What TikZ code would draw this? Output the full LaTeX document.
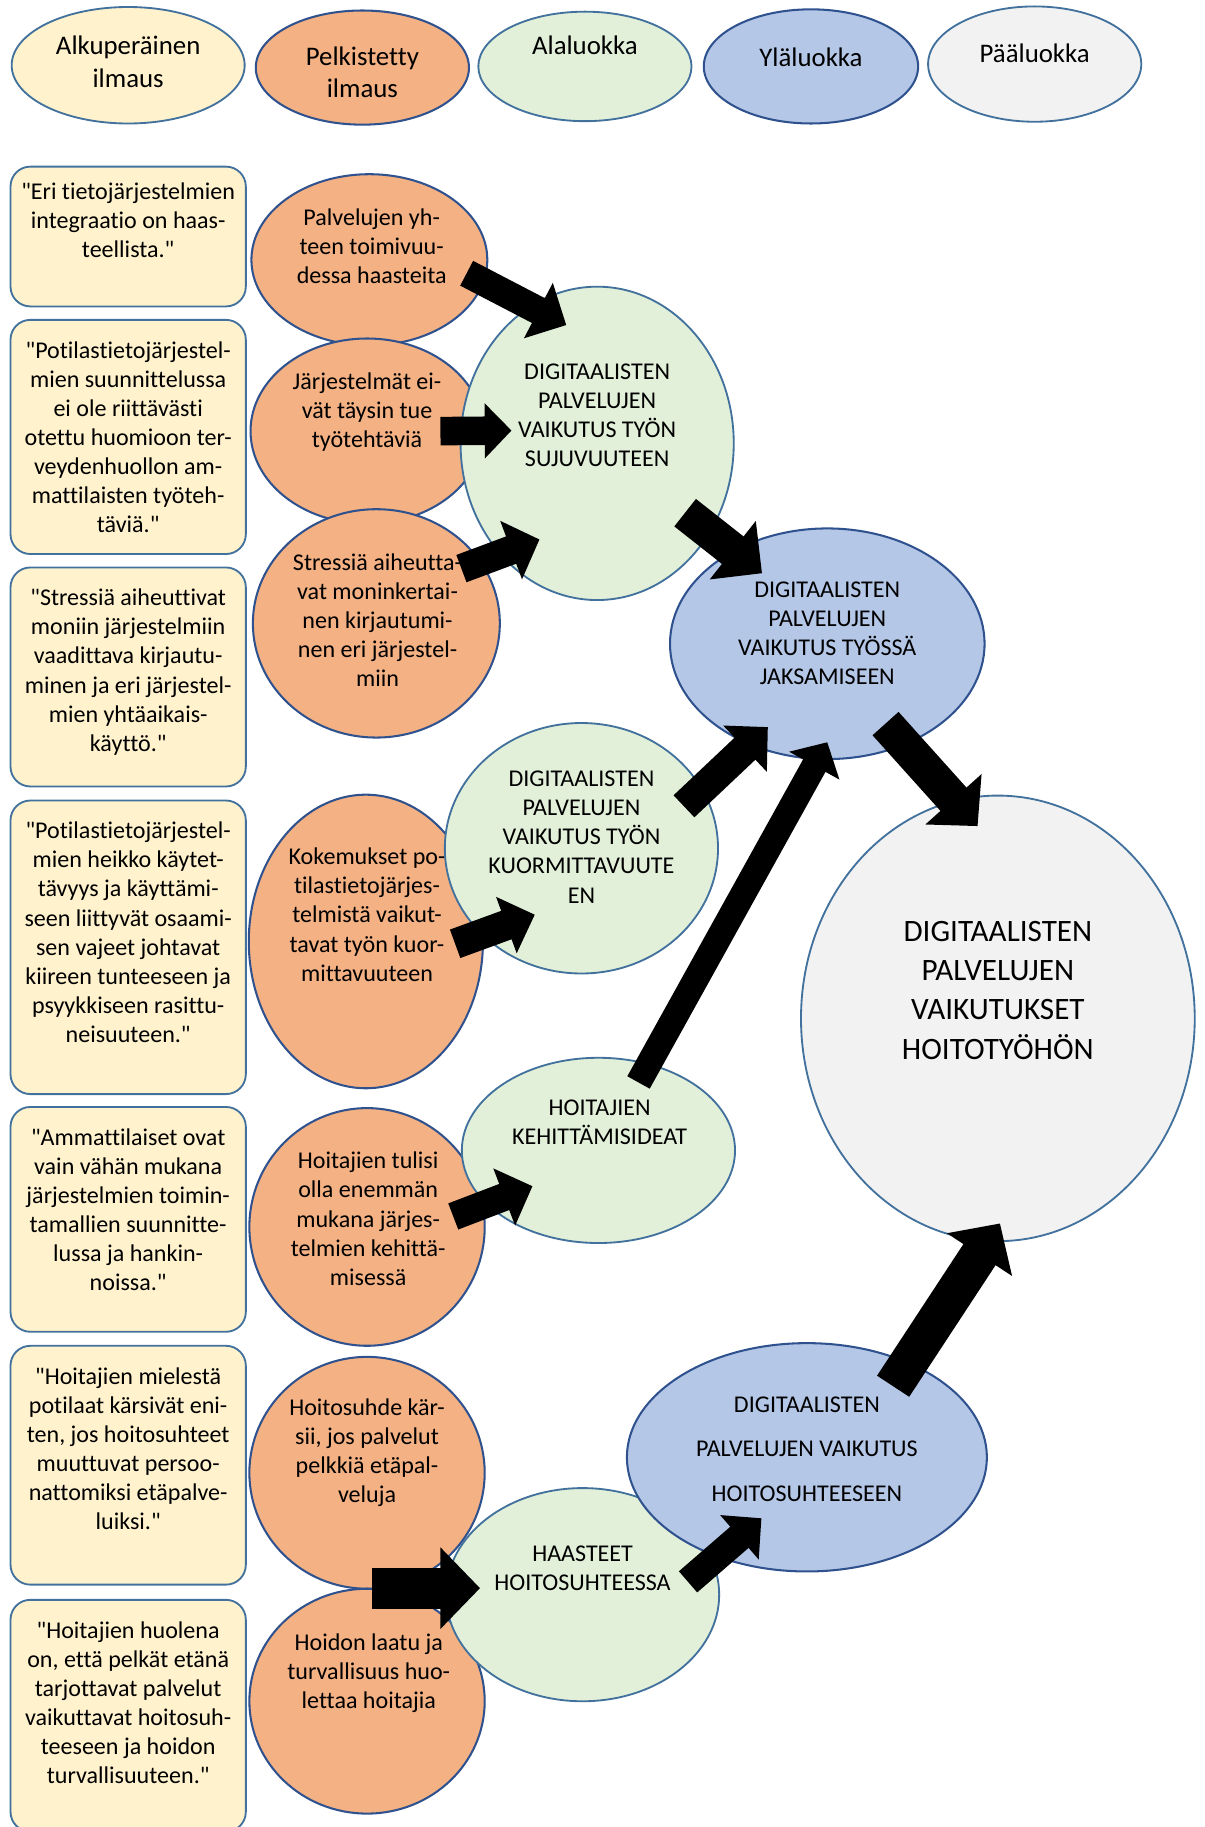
\documentclass[tikz,border=0pt]{standalone}
\usepackage{fontspec}
\setmainfont{Carlito}[Ligatures={TeXOff,CommonOff}]
\usetikzlibrary{calc,positioning,arrows.meta,shapes.geometric}
\definecolor{quoteyellow}{RGB}{255,242,204}
\definecolor{reduorange}{RGB}{244,177,131}
\definecolor{subgreen}{RGB}{226,240,217}
\definecolor{upblue}{RGB}{180,199,231}
\definecolor{maingrey}{RGB}{242,242,242}
\definecolor{edgelight}{RGB}{65,113,156}
\definecolor{edgedark}{RGB}{47,82,143}

\begin{document}
\begin{tikzpicture}[x=0.02cm, y=-0.02cm,
  quote/.style={draw=edgelight, line width=0.9pt, fill=quoteyellow, rounded corners=0.34cm, minimum width=4.04cm, inner sep=0pt},
  ell/.style 2 args={ellipse, inner sep=0pt, minimum width=#1, minimum height=#2},
  reduced/.style={draw=edgedark, line width=1pt, fill=reduorange},
  subcat/.style={draw=edgelight, line width=0.9pt, fill=subgreen},
  upcat/.style={draw=edgedark, line width=1pt, fill=upblue},
  maincat/.style={draw=edgelight, line width=0.9pt, fill=maingrey},
  txt/.style={align=center, inner sep=0pt, font=\fontsize{11.75}{14.2}\selectfont},
  legtxt/.style={align=center, inner sep=0pt, font=\fontsize{13.1}{15.8}\selectfont},
  blockarr/.style n args={3}{draw=black, line width=#1, -{Triangle[width=#2, length=#3]}},
]
\useasboundingbox (0,0) rectangle (1034,1568);

% legend
\node[ell={4cm}{2cm}, draw=edgelight, line width=0.9pt, fill=quoteyellow] (leg1) at (110,56) {};
\node[legtxt] (leg1t) at ($(leg1)+(0,-3)$) {Alkuperäinen\\ilmaus};
\node[ell={3.66cm}{1.96cm}, reduced] (leg2) at (311,58) {};
\node[legtxt] (leg2t) at ($(leg2)+(0,4)$) {Pelkistetty\\ilmaus};
\node[ell={3.66cm}{1.88cm}, subcat] (leg3) at (502,57) {};
\node[legtxt] (leg3t) at ($(leg3)+(0,-18)$) {Alaluokka};
\node[ell={3.68cm}{1.96cm}, upcat] (leg4) at (696,57) {};
\node[legtxt] (leg4t) at ($(leg4)+(0,-8)$) {Yläluokka};
\node[ell={3.66cm}{1.98cm}, maincat] (leg5) at (888,55) {};
\node[legtxt] (leg5t) at ($(leg5)+(0,-9)$) {Pääluokka};

% original quotes
\node[quote, minimum height=2.4cm] (q1) at (110,203) {};
\node[txt, below=0.28cm] (q1t) at (q1.north) {"Eri tietojärjestelmien\\integraatio on haas-\\teellista."};
\node[quote, minimum height=4.02cm] (q2) at (110,375) {};
\node[txt, below=0.38cm] (q2t) at (q2.north) {"Potilastietojärjestel-\\mien suunnittelussa\\ei ole riittävästi\\otettu huomioon ter-\\veydenhuollon am-\\mattilaisten työteh-\\täviä."};
\node[quote, minimum height=3.76cm] (q3) at (110,581) {};
\node[txt, below=0.38cm] (q3t) at (q3.north) {"Stressiä aiheuttivat\\moniin järjestelmiin\\vaadittava kirjautu-\\minen ja eri järjestel-\\mien yhtäaikais-\\käyttö."};
\node[quote, minimum height=5.04cm] (q4) at (110,813) {};
\node[txt, below=0.38cm] (q4t) at (q4.north) {"Potilastietojärjestel-\\mien heikko käytet-\\tävyys ja käyttämi-\\seen liittyvät osaami-\\sen vajeet johtavat\\kiireen tunteeseen ja\\psyykkiseen rasittu-\\neisuuteen."};
\node[quote, minimum height=3.86cm] (q5) at (110,1046.5) {};
\node[txt, below=0.38cm] (q5t) at (q5.north) {"Ammattilaiset ovat\\vain vähän mukana\\järjestelmien toimin-\\tamallien suunnitte-\\lussa ja hankin-\\noissa."};
\node[quote, minimum height=4.1cm] (q6) at (110,1257.5) {};
\node[txt, below=0.38cm] (q6t) at (q6.north) {"Hoitajien mielestä\\potilaat kärsivät eni-\\ten, jos hoitosuhteet\\muuttuvat persoo-\\nattomiksi etäpalve-\\luiksi."};
\node[quote, minimum height=3.98cm] (q7) at (110,1472.5) {};
\node[txt, below=0.38cm] (q7t) at (q7.north) {"Hoitajien huolena\\on, että pelkät etänä\\tarjottavat palvelut\\vaikuttavat hoitosuh-\\teeseen ja hoidon\\turvallisuuteen."};

% reduced expressions
\node[ell={4.05cm}{2.94cm}, reduced] (o1) at (317,223) {};
\node[txt] (o1t) at ($(o1)+(2,-12)$) {Palvelujen yh-\\teen toimivuu-\\dessa haasteita};
\node[ell={4cm}{3.18cm}, reduced] (o2) at (315,370) {};
\node[txt] (o2t) at ($(o2)+(0,-16)$) {Järjestelmät ei-\\vät täysin tue\\työtehtäviä};
\node[ell={4.24cm}{3.92cm}, reduced] (o3) at (323,535) {};
\node[txt] (o3t) at ($(o3)+(1,-3)$) {Stressiä aiheutta-\\vat moninkertai-\\nen kirjautumi-\\nen eri järjestel-\\miin};
\node[ell={4.02cm}{5.04cm}, reduced] (o4) at (314,808) {};
\node[txt] (o4t) at ($(o4)+(1,-23)$) {Kokemukset po-\\tilastietojärjes-\\telmistä vaikut-\\tavat työn kuor-\\mittavuuteen};
\node[ell={4.04cm}{4.08cm}, reduced] (o5) at (315,1053) {};
\node[txt] (o5t) at ($(o5)+(1,-7)$) {Hoitajien tulisi\\olla enemmän\\mukana järjes-\\telmien kehittä-\\misessä};
\node[ell={4.04cm}{3.98cm}, reduced] (o6) at (315,1264) {};
\node[txt] (o6t) at ($(o6)+(0,-17.5)$) {Hoitosuhde kär-\\sii, jos palvelut\\pelkkiä etäpal-\\veluja};
\node[ell={4.04cm}{3.86cm}, reduced] (o7) at (315,1460) {};
\node[txt] (o7t) at ($(o7)+(1.5,-24)$) {Hoidon laatu ja\\turvallisuus huo-\\lettaa hoitajia};

% subcategories
\node[ell={4.69cm}{5.38cm}, subcat] (g1) at (512.5,380.5) {};
\node[txt] (g1t) at ($(g1)+(0,-24)$) {DIGITAALISTEN\\PALVELUJEN\\VAIKUTUS TYÖN\\SUJUVUUTEEN};
\node[ell={4.69cm}{4.3cm}, subcat] (g2) at (499,728) {};
\node[txt] (g2t) at ($(g2)+(0,-9.6)$) {DIGITAALISTEN\\PALVELUJEN\\VAIKUTUS TYÖN\\KUORMITTAVUUTE\\EN};
\node[ell={4.69cm}{3.18cm}, subcat] (g3) at (513.6,987.3) {};
\node[txt] (g3t) at ($(g3)+(1,-24.3)$) {HOITAJIEN\\KEHITTÄMISIDEAT};
\node[ell={4.69cm}{3.66cm}, subcat] (g4) at (500,1368.6) {};
\node[txt] (g4t) at ($(g4)+(0,-23)$) {HAASTEET\\HOITOSUHTEESSA};

% upper categories
\node[ell={5.4cm}{3.96cm}, upcat] (b1) at (710,552.5) {};
\node[txt] (b1t) at ($(b1)+(0,-8.7)$) {DIGITAALISTEN\\PALVELUJEN\\VAIKUTUS TYÖSSÄ\\JAKSAMISEEN};
\node[ell={6.18cm}{3.92cm}, upcat] (b2) at (692.5,1250.7) {};
\node[txt, font=\fontsize{11.75}{21.6}\selectfont] (b2t) at ($(b2)+(0,-7)$) {DIGITAALISTEN\\PALVELUJEN VAIKUTUS\\HOITOSUHTEESEEN};

% main category
\node[ell={6.76cm}{7.65cm}, maincat] (p) at (856.4,874) {};
\node[txt, font=\fontsize{15.2}{19.1}\selectfont] (pt) at ($(p)+(0,-24)$) {DIGITAALISTEN\\PALVELUJEN\\VAIKUTUKSET\\HOITOTYÖHÖN};

% block arrows
\draw[blockarr={0.48cm}{1.04cm}{0.54cm}] ($(o1)+(83.5,11.5)$) -- ($(g1)+(-26.5,-101.5)$);
\draw[blockarr={0.49cm}{0.92cm}{0.46cm}] ($(o2)+(63,0)$) -- ($(g1)+(-73.5,-11)$);
\draw[blockarr={0.5cm}{1.04cm}{0.52cm}] ($(o3)+(73,-47)$) -- ($(g1)+(-49.5,82.5)$);
\draw[blockarr={0.6cm}{1.24cm}{0.64cm}] ($(g1)+(75.5,59.5)$) -- ($(b1)+(-56,-60.5)$);
\draw[blockarr={0.52cm}{1.06cm}{0.54cm}] ($(g2)+(88,-36)$) -- ($(b1)+(-51,71.5)$);
\draw[blockarr={0.44cm}{0.96cm}{0.46cm}] ($(g3)+(34.4,-58.3)$) -- ($(b1)+(0,84.5)$);
\draw[blockarr={0.6cm}{1.26cm}{0.62cm}] ($(b1)+(50,68.5)$) -- ($(p)+(-17.4,-165)$);
\draw[blockarr={0.52cm}{1cm}{0.52cm}] ($(o4)+(76.6,2)$) -- ($(g2)+(-40,57)$);
\draw[blockarr={0.48cm}{1.02cm}{0.52cm}] ($(o5)+(74,-9)$) -- ($(g3)+(-56.6,30.7)$);
\draw[blockarr={0.7cm}{1.36cm}{0.68cm}] ($(o7)+(4,-97)$) -- ($(g4)+(-88,-5.6)$);
\draw[blockarr={0.48cm}{0.98cm}{0.5cm}] ($(g4)+(90.5,-11)$) -- ($(b2)+(-39,52.3)$);
\draw[blockarr={0.66cm}{1.3cm}{0.64cm}] ($(b2)+(74,-61)$) -- ($(p)+(1.8,176)$);
\end{tikzpicture}
\end{document}
